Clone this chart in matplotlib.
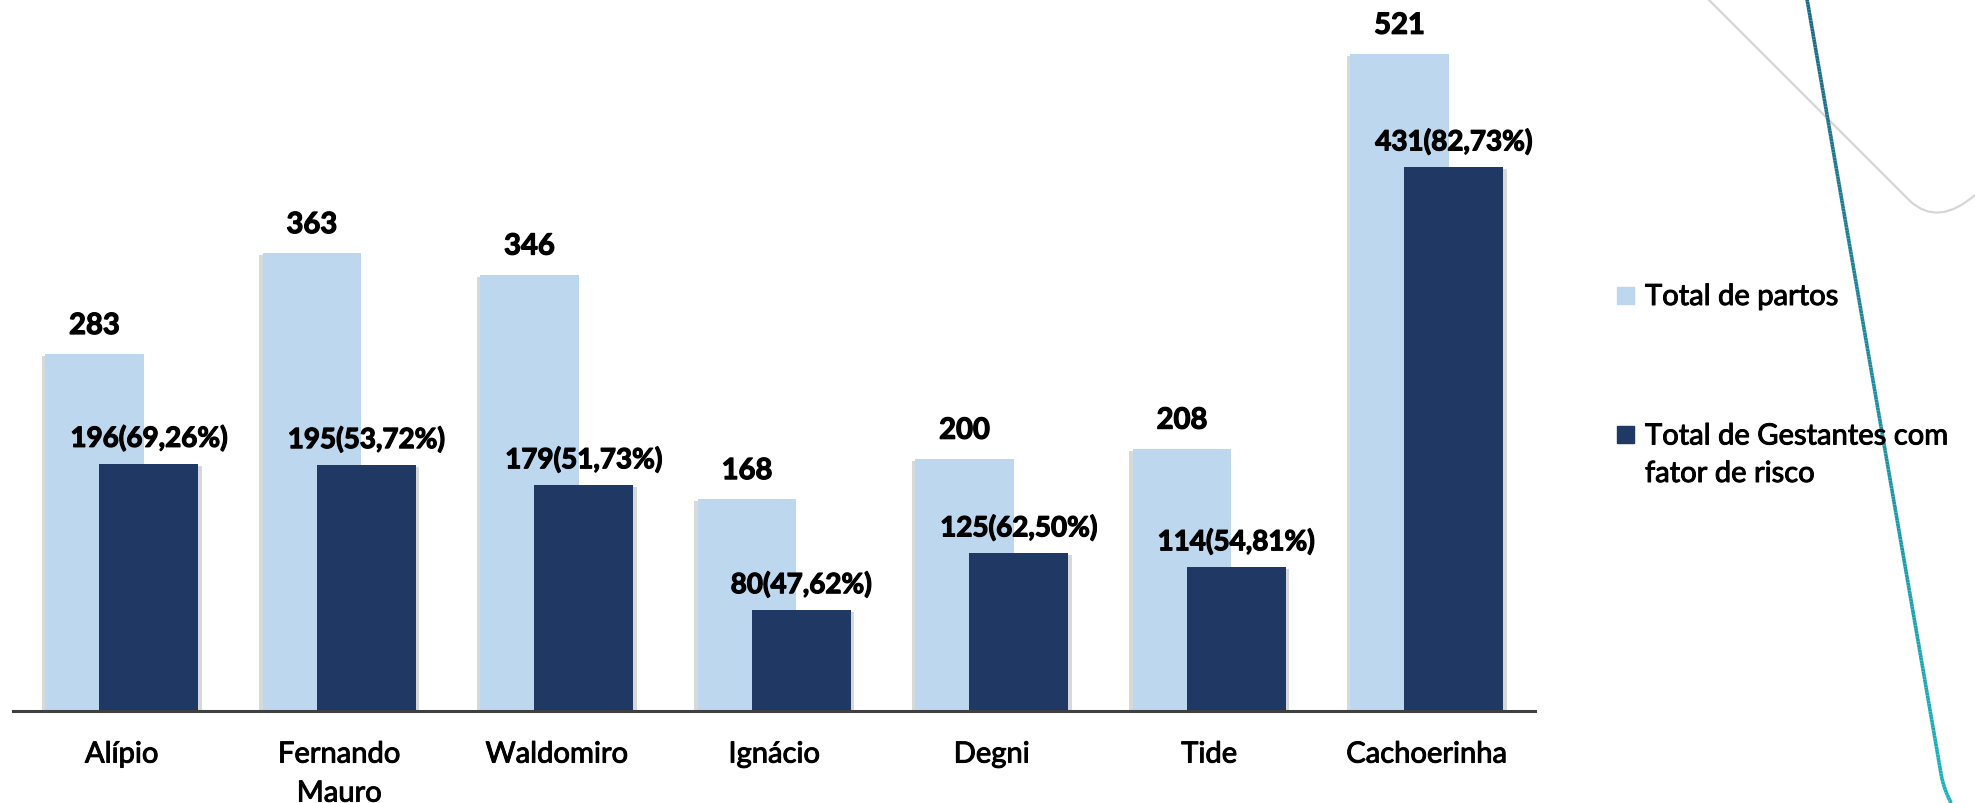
import numpy as np
import matplotlib.pyplot as plt
from matplotlib import patheffects as pe
from matplotlib.collections import LineCollection
from matplotlib.colors import LinearSegmentedColormap
from matplotlib.path import Path
from matplotlib.patches import PathPatch, Rectangle

plt.rcParams['font.family'] = ['Lato', 'DejaVu Sans']

# dados
unidades = ['Alípio', 'Fernando\nMauro', 'Waldomiro', 'Ignácio', 'Degni', 'Tide', 'Cachoerinha']
total_partos = [283, 363, 346, 168, 200, 208, 521]
gestantes_risco = [196, 195, 179, 80, 125, 114, 431]
percentual = ['69,26%', '53,72%', '51,73%', '47,62%', '62,50%', '54,81%', '82,73%']
legendas = ['Total de partos', 'Total de Gestantes com\nfator de risco']

cor_clara = '#BDD7EE'
cor_escura = '#1F3864'

# engrossa um pouco o texto (a fonte original e mais pesada)
grosso = [pe.withStroke(linewidth=0.7, foreground='black')]
grosso_b = [pe.withStroke(linewidth=0.9, foreground='black')]

W, H = 1975, 804
fig = plt.figure(figsize=(W / 100, H / 100), dpi=100)
ax = fig.add_axes([13 / W, 1 - 712 / H, 1522 / W, 712 / H])

x = np.arange(len(unidades))
largura = 0.455
desloc = 0.25

b1 = ax.bar(x, total_partos, largura, color=cor_clara, zorder=2)
b2 = ax.bar(x + desloc, gestantes_risco, largura, color=cor_escura, zorder=3)
for r in b1:
    r.set_path_effects([pe.SimplePatchShadow(offset=(-2.5, -1.5), shadow_rgbFace='#7f7f7f', alpha=0.3),
                        pe.Normal()])
for r in b2:
    r.set_path_effects([pe.SimplePatchShadow(offset=(2.5, -1.5), shadow_rgbFace='#7f7f7f', alpha=0.3),
                        pe.Normal()])

for xi, v in zip(x, total_partos):
    ax.annotate(str(v), (xi, v), xytext=(0, 14.4), textcoords='offset points',
                ha='center', va='baseline', fontsize=21, fontweight='bold', color='black',
                path_effects=grosso_b)
for xi, v, p in zip(x + desloc, gestantes_risco, percentual):
    ax.annotate(f'{v}({p})', (xi, v), xytext=(0, 12.2), textcoords='offset points',
                ha='center', va='baseline', fontsize=20, fontweight='bold', color='black',
                path_effects=grosso_b)

ax.set_xlim(-0.3747, 6.623)
ax.set_ylim(0, 564.4)
for s in ['top', 'right', 'left']:
    ax.spines[s].set_visible(False)
ax.spines['bottom'].set_color('#404040')
ax.spines['bottom'].set_linewidth(2.2)
ax.spines['bottom'].set_zorder(5)
ax.set_yticks([])
ax.set_xticks(x + desloc / 2)
ax.set_xticklabels(unidades, fontsize=21)
ax.tick_params(axis='x', length=0, pad=22)
for lbl in ax.get_xticklabels():
    lbl.set_linespacing(1.62)
    lbl.set_path_effects(grosso)

# legenda
cores = [cor_clara, cor_escura]
ys = [306, 445]
for cor, txt, yb in zip(cores, legendas, ys):
    fig.add_artist(Rectangle((1617 / W, 1 - (yb - 1) / H), 17 / W, 17 / H,
                             transform=fig.transFigure, color=cor))
    n = txt.count('\n')
    fig.text(1645 / W, 1 - (yb + 38 * n) / H, txt, fontsize=21, va='baseline', ha='left',
             linespacing=1.55, color='black', path_effects=grosso)

# linhas decorativas
yy = np.linspace(0, 804, 300)
xx = 1807 + 0.173 * yy + np.where(yy > 775, ((yy - 775) / 29) ** 2 * 5, 0)
pts = np.column_stack([xx / W, 1 - yy / H]).reshape(-1, 1, 2)
segs = np.concatenate([pts[:-1], pts[1:]], axis=1)
cmap = LinearSegmentedColormap.from_list('teal', ['#1D6782', '#1AB2BC'])
lc = LineCollection(segs, cmap=cmap, linewidths=2.6, transform=fig.transFigure)
lc.set_array(np.linspace(0, 1, len(segs)))
fig.add_artist(lc)

verts = [(1708, 0), (1910, 202), (1938, 228), (1975, 196)]
verts = [(a / W, 1 - b / H) for a, b in verts]
caminho = Path(verts, [Path.MOVETO, Path.LINETO, Path.CURVE3, Path.CURVE3])
fig.add_artist(PathPatch(caminho, fill=False, edgecolor='#d6d6d6', lw=1.6,
                         transform=fig.transFigure))

fig.savefig('out.png', dpi=100)
